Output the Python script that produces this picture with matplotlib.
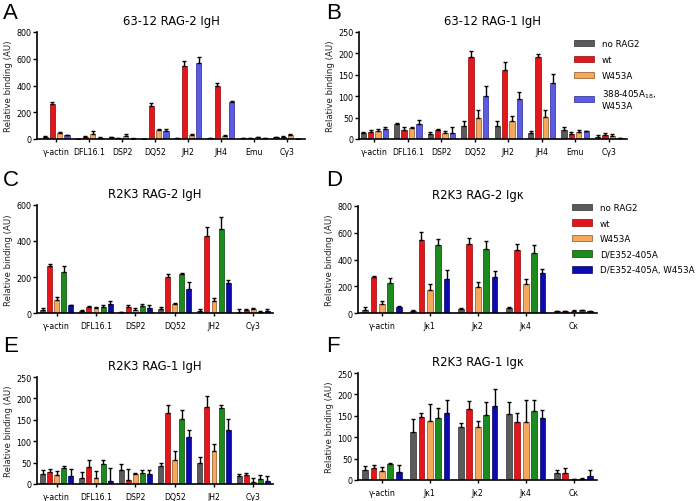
import numpy as np
import matplotlib
matplotlib.use("Agg")
import matplotlib.pyplot as plt
from matplotlib.patches import Patch

plt.rcParams['font.family'] = ['DejaVu Sans']

# ---------------- data ----------------
cats_AB = ["γ-actin", "DFL16.1", "DSP2", "DQ52", "JH2", "JH4", "Emu", "Cγ3"]
cats_CE = ["γ-actin", "DFL16.1", "DSP2", "DQ52", "JH2", "Cγ3"]
cats_DF = ["γ-actin", "Jκ1", "Jκ2", "Jκ4", "Cκ"]

labels_AB = ["no RAG2", "wt", "W453A", "388-405A$_{18}$,\nW453A"]
labels_CDEF = ["no RAG2", "wt", "W453A", "D/E352-405A", "D/E352-405A, W453A"]

# Panel A: 63-12 RAG-2 IgH
A_norag = [12, 2, 12, 3, 5, 5, 5, 12]
A_wt = [265, 15, 8, 245, 545, 395, 8, 18]
A_w453 = [45, 37, 22, 67, 28, 22, 12, 28]
A_388 = [28, 10, 3, 62, 565, 278, 4, 2]
A_norag_e = [8, 0, 5, 0, 2, 3, 2, 5]
A_wt_e = [12, 5, 3, 25, 35, 20, 3, 5]
A_w453_e = [10, 20, 12, 8, 12, 10, 5, 7]
A_388_e = [0, 3, 2, 12, 45, 8, 2, 0]

# Panel B: 63-12 RAG-1 IgH
B_norag = [13, 36, 12, 30, 29.5, 13, 21, 5.5]
B_wt = [17, 22, 21, 192.5, 161, 192.5, 12.5, 10]
B_w453 = [19, 26, 14, 50, 42, 51, 16, 7]
B_388 = [22.5, 36, 14, 101, 93, 131, 18, 3]
B_norag_e = [3, 2.5, 3.5, 12, 12, 6, 6, 4.5]
B_wt_e = [4, 7, 3, 14, 20, 5, 3, 3]
B_w453_e = [4, 3, 5, 18, 11, 16, 6, 5.5]
B_388_e = [6.5, 8, 15, 24, 16, 22, 1, 0]

# Panel C: R2K3 RAG-2 IgH
C_norag = [18, 12, 5, 22, 12, 8]
C_wt = [260, 35, 32, 200, 430, 15]
C_w453 = [70, 30, 18, 52, 67, 20]
C_de = [230, 35, 38, 215, 465, 5]
C_dew = [42, 50, 28, 135, 165, 10]
C_norag_e = [12, 5, 3, 10, 8, 12]
C_wt_e = [12, 5, 12, 15, 50, 5]
C_w453_e = [20, 5, 10, 5, 18, 10]
C_de_e = [30, 10, 12, 8, 70, 5]
C_dew_e = [5, 15, 18, 40, 20, 15]

# Panel D: R2K3 RAG-2 Igk
D_norag = [25, 15, 27, 35, 12]
D_wt = [271, 548, 518, 468, 15]
D_w453 = [70, 169, 192, 214, 17]
D_de = [227, 508, 481, 448, 22]
D_dew = [45, 254, 269, 301, 12]
D_norag_e = [22, 5, 10, 12, 2]
D_wt_e = [8, 57, 45, 47, 2]
D_w453_e = [22, 45, 42, 42, 5]
D_de_e = [37, 47, 59, 62, 3]
D_dew_e = [7, 67, 45, 30, 3]

# Panel E: R2K3 RAG-1 IgH
E_norag = [23, 15, 33, 42, 49, 19]
E_wt = [28, 40, 10, 167, 180, 22]
E_w453 = [20, 15, 23, 56, 78, 5]
E_de = [38, 46, 26, 152, 178, 12]
E_dew = [19, 8, 24, 110, 126, 7]
E_norag_e = [10, 12, 14, 7, 14, 4]
E_wt_e = [8, 16, 24, 18, 26, 3]
E_w453_e = [10, 16, 2, 20, 16, 9]
E_de_e = [3, 11, 6, 21, 6, 10]
E_dew_e = [17, 29, 9, 17, 27, 11]

# Panel F: R2K3 RAG-1 Igk
F_norag = [23, 113, 124, 154, 16.5]
F_wt = [27.5, 148, 166, 136, 17]
F_w453 = [20, 137, 124, 135, 1.5]
F_de = [37, 145, 152, 161, 2]
F_dew = [18, 156, 173, 144, 9.5]
F_norag_e = [10, 30, 8.5, 28, 7.5]
F_wt_e = [7.5, 8, 17.5, 20, 10.5]
F_w453_e = [10.5, 41, 14, 51, 0]
F_de_e = [3, 23, 30, 26, 3]
F_dew_e = [16.5, 31, 39, 19, 14]

# ---------------- styles ----------------
GRAY = ('#5a5a5a', '#2e2e2e')
RED = ('#e4161c', '#8a0a0a')
ORANGE = ('#f6a75c', '#8a5420')
VIOLET = ('#5b5be6', '#2a2a8a')
GREEN = ('#1d8a1d', '#0a440a')
NAVY = ('#0a0ab0', '#05055a')

colors_AB = [GRAY, RED, ORANGE, VIOLET]
colors_CDEF = [GRAY, RED, ORANGE, GREEN, NAVY]

W, H = 696, 502
fig = plt.figure(figsize=(W / 100, H / 100), dpi=100)


def rect(x0, y0, x1, y1):
    return [x0 / W, 1 - y1 / H, (x1 - x0) / W, (y1 - y0) / H]


def panel(r, cats, series, errs, colors, ymax, ystep, title, xlim, spacing, width):
    ax = fig.add_axes(r)
    n = len(series)
    x = np.arange(len(cats))
    for i, (vals, e, (fc, ec)) in enumerate(zip(series, errs, colors)):
        off = (i - (n - 1) / 2) * spacing
        ax.bar(x + off, vals, width, color=fc, edgecolor=ec, linewidth=0.5,
               yerr=[np.zeros(len(vals)), e],
               error_kw=dict(ecolor='black', elinewidth=1.0, capsize=1.3, capthick=1.0),
               zorder=2)
    ax.set_xlim(*xlim)
    ax.set_ylim(0, ymax)
    ax.set_yticks(np.arange(0, ymax + 1, ystep))
    ax.set_xticks(x)
    ax.set_xticklabels(cats, fontsize=5.6)
    ax.tick_params(axis='y', labelsize=5.8, length=3, width=1.0, pad=1.2)
    ax.tick_params(axis='x', length=2.5, width=1.0, pad=3)
    for s in ('top', 'right'):
        ax.spines[s].set_visible(False)
    for s in ('left', 'bottom'):
        ax.spines[s].set_linewidth(1.2)
    ax.set_ylabel("Relative binding (AU)", fontsize=6.2, labelpad=2, color='#222222')
    ax.set_title(title, fontsize=8.4, pad=6)
    return ax


axA = panel(rect(37, 33, 305, 140), cats_AB, [A_norag, A_wt, A_w453, A_388],
            [A_norag_e, A_wt_e, A_w453_e, A_388_e], colors_AB, 800, 200,
            "63-12 RAG-2 IgH", (-0.58, 7.55), 0.22, 0.16)
axB = panel(rect(359, 33, 627, 140), cats_AB, [B_norag, B_wt, B_w453, B_388],
            [B_norag_e, B_wt_e, B_w453_e, B_388_e], colors_AB, 250, 50,
            "63-12 RAG-1 IgH", (-0.46, 7.55), 0.22, 0.16)
axC = panel(rect(37, 206, 273, 314), cats_CE, [C_norag, C_wt, C_w453, C_de, C_dew],
            [C_norag_e, C_wt_e, C_w453_e, C_de_e, C_dew_e], colors_CDEF, 600, 200,
            "R2K3 RAG-2 IgH", (-0.5, 5.5), 0.18, 0.125)
axD = panel(rect(358, 207, 597, 314), cats_DF, [D_norag, D_wt, D_w453, D_de, D_dew],
            [D_norag_e, D_wt_e, D_w453_e, D_de_e, D_dew_e], colors_CDEF, 800, 200,
            "R2K3 RAG-2 Igκ", (-0.5, 4.49), 0.175, 0.12)
axE = panel(rect(37, 378, 273, 485), cats_CE, [E_norag, E_wt, E_w453, E_de, E_dew],
            [E_norag_e, E_wt_e, E_w453_e, E_de_e, E_dew_e], colors_CDEF, 250, 50,
            "R2K3 RAG-1 IgH", (-0.5, 5.5), 0.18, 0.125)
axF = panel(rect(358, 374, 597, 481), cats_DF, [F_norag, F_wt, F_w453, F_de, F_dew],
            [F_norag_e, F_wt_e, F_w453_e, F_de_e, F_dew_e], colors_CDEF, 250, 50,
            "R2K3 RAG-1 Igκ", (-0.5, 4.49), 0.175, 0.12)

# legends
hAB = [Patch(facecolor=fc, edgecolor=ec, linewidth=0.5) for fc, ec in colors_AB]
axB.legend(hAB, labels_AB, loc='upper left', bbox_to_anchor=(574 / W, 1 - 40 / H),
           bbox_transform=fig.transFigure, frameon=False, fontsize=6.3,
           handlelength=2.3, handleheight=0.8, handletextpad=0.9, labelspacing=0.8,
           borderpad=0, borderaxespad=0)
hCD = [Patch(facecolor=fc, edgecolor=ec, linewidth=0.5) for fc, ec in colors_CDEF]
axD.legend(hCD, labels_CDEF, loc='upper left', bbox_to_anchor=(572 / W, 1 - 204 / H),
           bbox_transform=fig.transFigure, frameon=False, fontsize=6.3,
           handlelength=2.3, handleheight=0.8, handletextpad=0.9, labelspacing=0.75,
           borderpad=0, borderaxespad=0)

# panel letters
for lab, (px, py) in zip("ABCDEF", [(3, 3), (326, 3), (3, 170), (326, 170), (3, 336), (326, 336)]):
    fig.text(px / W, 1 - py / H, lab, fontsize=16, va='top', ha='left',
             family=['Liberation Sans', 'DejaVu Sans'])

fig.savefig("out.png", dpi=100)
